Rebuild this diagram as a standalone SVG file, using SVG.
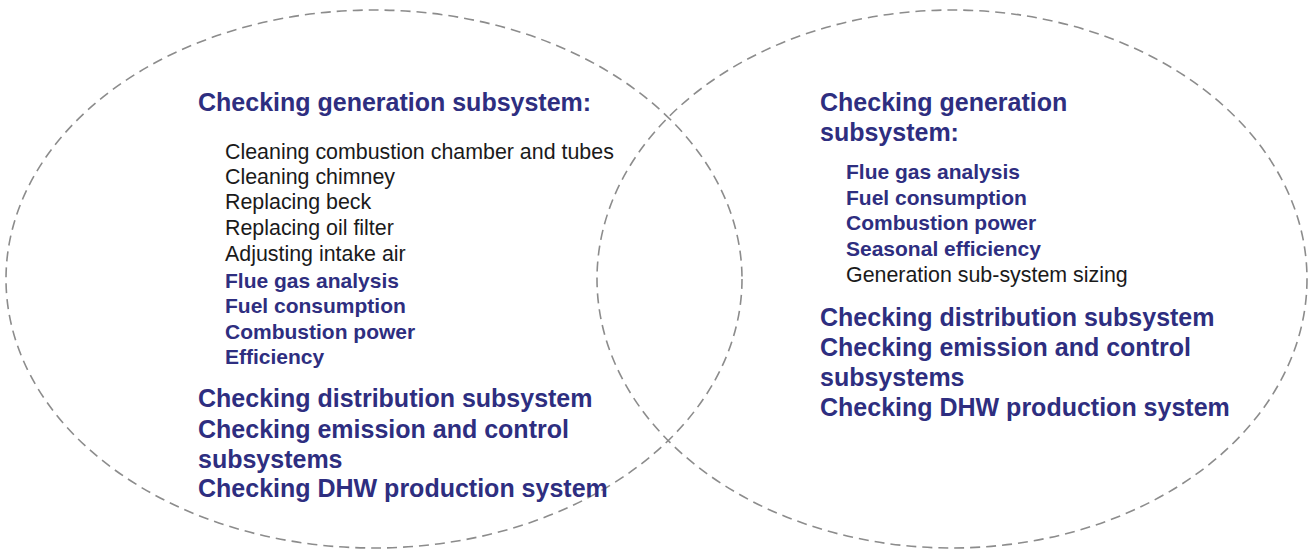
<svg xmlns="http://www.w3.org/2000/svg" width="1313" height="551" viewBox="0 0 1313 551">
<style>
.ring{fill:none;stroke:#8c8c8c;stroke-width:1.6;stroke-dasharray:10 6}
.h{font-family:"Liberation Sans",Arial,sans-serif;font-weight:bold;font-size:25px;fill:#2e2e80}
.b{font-family:"Liberation Sans",Arial,sans-serif;font-weight:bold;font-size:21px;fill:#2e2e80}
.n{font-family:"Liberation Sans",Arial,sans-serif;font-size:21.4px;fill:#1a1a1a}
</style>
<rect width="1313" height="551" fill="#ffffff"/>
<g id="connectors"></g>
<g id="left-set">
<ellipse class="ring" cx="374" cy="279" rx="368" ry="269"/>
<text class="h" x="198" y="111">Checking generation subsystem:</text>
<text class="n" x="225" y="159">Cleaning combustion chamber and tubes</text>
<text class="n" x="225" y="184">Cleaning chimney</text>
<text class="n" x="225" y="209">Replacing beck</text>
<text class="n" x="225" y="235">Replacing oil filter</text>
<text class="n" x="225" y="261">Adjusting intake air</text>
<text class="b" x="225" y="288">Flue gas analysis</text>
<text class="b" x="225" y="313">Fuel consumption</text>
<text class="b" x="225" y="339">Combustion power</text>
<text class="b" x="225" y="364">Efficiency</text>
<text class="h" x="198" y="407">Checking distribution subsystem</text>
<text class="h" x="198" y="438">Checking emission and control</text>
<text class="h" x="198" y="468">subsystems</text>
<text class="h" x="198" y="497">Checking DHW production system</text>
</g>
<g id="right-set">
<ellipse class="ring" cx="952" cy="279" rx="355" ry="269"/>
<text class="h" x="820" y="111">Checking generation</text>
<text class="h" x="820" y="141">subsystem:</text>
<text class="b" x="846" y="179">Flue gas analysis</text>
<text class="b" x="846" y="205">Fuel consumption</text>
<text class="b" x="846" y="230">Combustion power</text>
<text class="b" x="846" y="256">Seasonal efficiency</text>
<text class="n" x="846" y="282">Generation sub-system sizing</text>
<text class="h" x="820" y="326">Checking distribution subsystem</text>
<text class="h" x="820" y="356">Checking emission and control</text>
<text class="h" x="820" y="386">subsystems</text>
<text class="h" x="820" y="416">Checking DHW production system</text>
</g>
</svg>
